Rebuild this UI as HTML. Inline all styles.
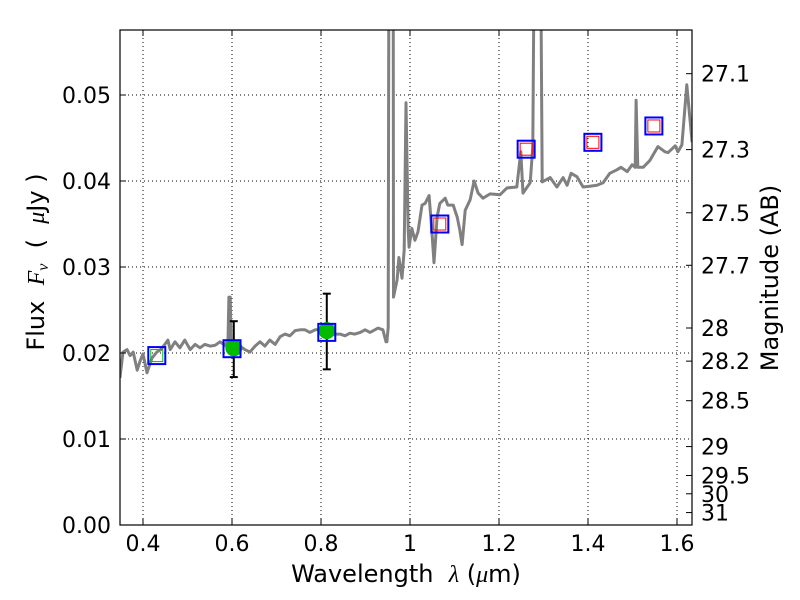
<!DOCTYPE html>
<html><head><meta charset="utf-8"><style>
html,body{margin:0;padding:0;background:#fff}
svg{display:block;font-family:"DejaVu Sans","Liberation Sans",sans-serif}
</style></head><body>
<svg id="chart" width="800" height="600" viewBox="0 0 800 600"></svg>
<script>
const specLam=[0.348,0.355,0.364,0.371,0.378,0.387,0.393,0.400,0.409,0.420,0.431,0.440,0.449,0.456,0.461,0.472,0.483,0.494,0.506,0.517,0.528,0.539,0.551,0.562,0.573,0.584,0.591,0.593,0.596,0.598,0.607,0.618,0.629,0.640,0.652,0.663,0.674,0.685,0.697,0.708,0.719,0.730,0.742,0.753,0.764,0.775,0.787,0.798,0.809,0.820,0.831,0.843,0.854,0.865,0.876,0.888,0.899,0.910,0.921,0.928,0.939,0.946,0.948,0.951,0.953,0.962,0.963,0.971,0.975,0.982,0.987,0.991,0.996,0.998,1.004,1.011,1.018,1.027,1.034,1.043,1.049,1.054,1.061,1.067,1.079,1.085,1.097,1.106,1.112,1.117,1.124,1.135,1.144,1.153,1.164,1.180,1.202,1.218,1.240,1.249,1.254,1.270,1.276,1.281,1.292,1.297,1.315,1.330,1.344,1.353,1.362,1.375,1.389,1.404,1.420,1.434,1.449,1.465,1.474,1.488,1.499,1.506,1.508,1.512,1.524,1.539,1.557,1.573,1.580,1.596,1.602,1.611,1.622,1.634];
const specFlux=[0.0171,0.0201,0.0204,0.0197,0.0201,0.0180,0.0190,0.0199,0.0177,0.0194,0.0201,0.0204,0.0210,0.0215,0.0204,0.0213,0.0206,0.0215,0.0204,0.0210,0.0206,0.0210,0.0208,0.0209,0.0213,0.0209,0.0215,0.0265,0.0265,0.0215,0.0208,0.0208,0.0204,0.0201,0.0208,0.0213,0.0208,0.0215,0.0210,0.0219,0.0222,0.0220,0.0226,0.0227,0.0227,0.0224,0.0227,0.0227,0.0224,0.0221,0.0222,0.0222,0.0220,0.0223,0.0222,0.0224,0.0227,0.0224,0.0227,0.0229,0.0227,0.0213,0.0213,0.0230,0.08,0.08,0.0265,0.0285,0.0311,0.0287,0.0320,0.0491,0.0343,0.0323,0.0345,0.0331,0.0341,0.0372,0.0374,0.0383,0.0343,0.0305,0.0358,0.0374,0.0380,0.0372,0.0372,0.0358,0.0343,0.0326,0.0366,0.0378,0.0400,0.0386,0.0380,0.0385,0.0384,0.0392,0.0393,0.0434,0.0386,0.0398,0.0440,0.08,0.08,0.0399,0.0404,0.0393,0.0404,0.0395,0.0409,0.0405,0.0393,0.0394,0.0395,0.0398,0.0409,0.0413,0.0416,0.0411,0.0419,0.0416,0.0494,0.0416,0.0416,0.0424,0.0440,0.0434,0.0433,0.0441,0.0434,0.0442,0.0512,0.0445];
const phLam=[0.431,0.600,0.813,1.067,1.261,1.411,1.548];
const phFlux=[0.0197,0.0205,0.0224,0.0350,0.0437,0.0445,0.0464];
const redLam=[1.067,1.261,1.411,1.548];
const redFlux=[0.0350,0.0437,0.0445,0.0464];
const obsLam=[0.604,0.813];
const obsFlux=[0.0206,0.0226];
const obsLo=[0.0172,0.0181];
const obsHi=[0.0237,0.0269];
const openGreenLam=[0.431];
const openGreenFlux=[0.0197];
const xTicks=[0.4,0.6,0.8,1.0,1.2,1.4,1.6];
const xTickLabels=["0.4","0.6","0.8","1","1.2","1.4","1.6"];
const yTicks=[0,0.01,0.02,0.03,0.04,0.05];
const yTickLabels=["0.00","0.01","0.02","0.03","0.04","0.05"];
const magTicks=[27.1,27.3,27.5,27.7,28,28.2,28.5,29,29.5,30,31];
const magTickLabels=["27.1","27.3","27.5","27.7","28","28.2","28.5","29","29.5","30","31"];

const L=120,R=692,T=30,B=525;
const xMin=0.3483,xMax=1.6337,yMin=0,yMax=0.05756;
const X=v=>L+(v-xMin)/(xMax-xMin)*(R-L);
const Y=v=>B-(v-yMin)/(yMax-yMin)*(B-T);
const magToFlux=m=>Math.pow(10,(23.9-m)/2.5);
const NS="http://www.w3.org/2000/svg";
const svg=document.getElementById('chart');
function mk(tag,attrs,parent){const e=document.createElementNS(NS,tag);for(const k in attrs)e.setAttribute(k,attrs[k]);(parent||svg).appendChild(e);return e;}

const defs=mk('defs',{});
const cp=mk('clipPath',{id:'clip'},defs);
mk('rect',{x:L,y:T,width:R-L,height:B-T},cp);

const grid=mk('g',{stroke:'#000','stroke-width':1,'stroke-dasharray':'1,3',fill:'none'});


xTicks.forEach(v=>{mk('line',{x1:X(v),x2:X(v),y1:T,y2:B},grid);});
yTicks.forEach(v=>{mk('line',{x1:L,x2:R,y1:Y(v),y2:Y(v)},grid);});

const plot=mk('g',{'clip-path':'url(#clip)'});
let d='';
specLam.forEach((l,i)=>{d+=(i?'L':'M')+X(l).toFixed(1)+','+Y(specFlux[i]).toFixed(1);});
const sp=mk('path',{d:d,fill:'none',stroke:'#808080','stroke-width':3,'stroke-linejoin':'round'},plot);



obsLam.forEach((l,i)=>{
  const g=mk('g',{stroke:'#000','stroke-width':2},plot);
  
  
  const x=X(l);
  mk('line',{x1:x,x2:x,y1:Y(obsLo[i]),y2:Y(obsHi[i])},g);
  mk('line',{x1:x-4,x2:x+4,y1:Y(obsLo[i]),y2:Y(obsLo[i])},g);
  mk('line',{x1:x-4,x2:x+4,y1:Y(obsHi[i]),y2:Y(obsHi[i])},g);
});
obsLam.forEach((l,i)=>{
  const c=mk('circle',{cx:X(l),cy:Y(obsFlux[i]),r:8.5,fill:'#00bb00'},plot);
  
  
});
openGreenLam.forEach((l,i)=>{
  const r=mk('rect',{x:X(l)-6,y:Y(openGreenFlux[i])-6,width:12,height:12,fill:'none',stroke:'#00bb00','stroke-width':1},plot);
  
  
});
phLam.forEach((l,i)=>{
  const r=mk('rect',{x:X(l)-8.5,y:Y(phFlux[i])-8.5,width:17,height:17,fill:'none',stroke:'#0000ff','stroke-width':2},plot);
  
  
});
redLam.forEach((l,i)=>{
  const r=mk('rect',{x:X(l)-6,y:Y(redFlux[i])-6,width:12,height:12,fill:'none',stroke:'#ff0000','stroke-width':1},plot);
  
  
});

const fr=mk('rect',{x:L,y:T,width:R-L,height:B-T,fill:'none',stroke:'#000','stroke-width':1.2});



const FS=22;
const tk=mk('g',{stroke:'#000','stroke-width':1});
xTicks.forEach((v,i)=>{
  const x=X(v);
  mk('line',{x1:x,x2:x,y1:B,y2:B-6},tk);
  mk('line',{x1:x,x2:x,y1:T,y2:T+6},tk);
  const t=mk('text',{x:x,y:B+26,'text-anchor':'middle','font-size':FS,fill:'#000'});
  t.textContent=xTickLabels[i];
  
  
});
yTicks.forEach((v,i)=>{
  const y=Y(v);
  mk('line',{x1:L,x2:L+6,y1:y,y2:y},tk);
  const t=mk('text',{x:L-9,y:y+8,'text-anchor':'end','font-size':FS,fill:'#000'});
  t.textContent=yTickLabels[i];
  
  
});
magTicks.forEach((m,i)=>{
  const y=Y(magToFlux(m));
  mk('line',{x1:R,x2:R-6,y1:y,y2:y},tk);
  const t=mk('text',{x:R+9,y:y+8,'text-anchor':'start','font-size':FS,fill:'#000'});
  t.textContent=magTickLabels[i];
  
  
});

const xt=mk('text',{x:406,y:582,'text-anchor':'middle','font-size':24,fill:'#000'});
xt.innerHTML='Wavelength&#160;&#160;<tspan font-family="Liberation Serif,serif" font-style="italic">λ</tspan> (<tspan font-family="Liberation Serif,serif" font-style="italic">μ</tspan>m)';



const yt=mk('text',{x:0,y:0,'text-anchor':'middle','font-size':24,fill:'#000',transform:'translate(44,262) rotate(-90)'});
yt.innerHTML='Flux&#160;&#160;<tspan font-family="Liberation Serif,serif" font-style="italic">F<tspan font-size="16" dy="4">ν</tspan></tspan><tspan dy="-4">&#160;&#160;(&#160;&#160;</tspan><tspan font-family="Liberation Serif,serif" font-style="italic">μ</tspan>Jy )';



const rt=mk('text',{x:0,y:0,'text-anchor':'middle','font-size':24,fill:'#000',transform:'translate(778,278) rotate(-90)'});
rt.textContent='Magnitude (AB)';


</script>
</body></html>
